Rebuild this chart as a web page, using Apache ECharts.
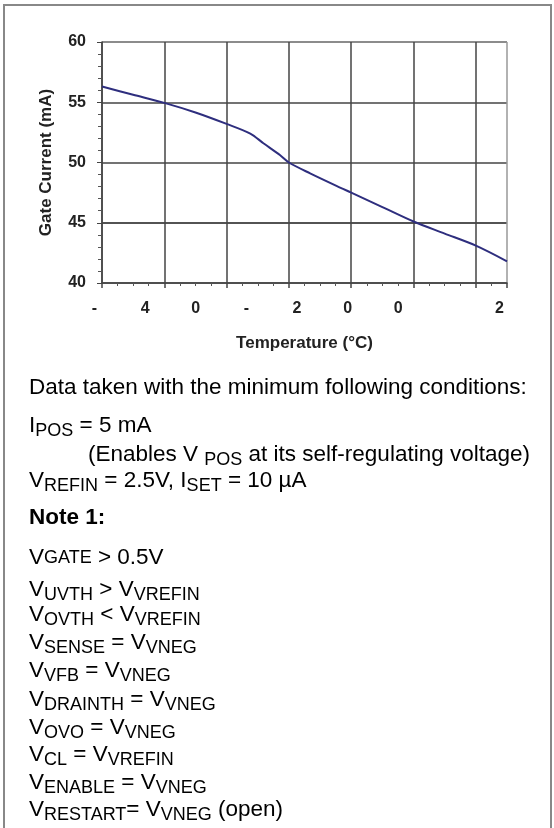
<!DOCTYPE html>
<html>
<head>
<meta charset="utf-8">
<script src="https://cdn.jsdelivr.net/npm/echarts@6/dist/echarts.min.js"></script>
<style>
html, body { margin: 0; background: #fff; }
#main { width: 554px; height: 828px; }
</style>
</head>
<body>
<div id="main"></div>
<script>
// temperature position counted in gridline steps from the left edge
var tempPos = [0, 0.5, 1, 1.5, 2, 2.38, 2.59, 2.86, 3, 3.34, 3.83, 4, 4.5, 5, 5.5, 6, 6.5];
var gateCurrent = [56.3, 55.62, 54.95, 54.15, 53.2, 52.4, 51.6, 50.6, 50.0, 49.1, 47.9, 47.5, 46.3, 45.1, 44.1, 43.1, 41.8];
var tempLabels = ['-', '4', '0', '-', '2', '0', '0', '', '2'];

var FONT = '"Liberation Sans", Arial, Helvetica, sans-serif';
var TXT = '#222';

var rich = {
  n: { fontFamily: FONT, fontSize: 22.5, lineHeight: 22, verticalAlign: 'top', color: TXT },
  s: { fontFamily: FONT, fontSize: 18, lineHeight: 18, padding: [8, 0, 0, 0], verticalAlign: 'top', color: TXT },
  g: { fontFamily: FONT, fontSize: 18, lineHeight: 18, padding: [3, 0, 0, 0], verticalAlign: 'top', color: TXT },
  b: { fontFamily: FONT, fontSize: 22.5, lineHeight: 22, fontWeight: 'bold', verticalAlign: 'top', color: TXT }
};

function note(x, baseline, text) {
  return {
    type: 'text',
    x: x,
    y: baseline - 18.6,
    silent: true,
    style: { text: text, rich: rich, verticalAlign: 'top', align: 'left' }
  };
}

var chart = echarts.init(document.getElementById('main'));

chart.setOption({
  animation: false,
  backgroundColor: '#fff',
  grid: { left: 102, right: 47, top: 42, bottom: 545 },
  xAxis: [
    {
      type: 'value',
      min: 0,
      max: 6.5,
      interval: 1,
      position: 'bottom',
      axisLine: { show: true, lineStyle: { color: '#444', width: 1.5 } },
      axisTick: { show: true, length: 5, lineStyle: { color: '#444', width: 1.5 } },
      minorTick: { show: true, splitNumber: 4, length: 3, lineStyle: { color: '#555' } },
      axisLabel: { show: false },
      splitLine: {
        show: true,
        lineStyle: { color: ['#444', '#444', '#444', '#444', '#444', '#444', '#444', '#999'], width: 1.5 }
      }
    },
    {
      type: 'category',
      data: tempLabels,
      boundaryGap: false,
      position: 'bottom',
      axisLine: { show: false },
      axisTick: { show: false },
      splitLine: { show: false },
      axisLabel: {
        interval: 0,
        margin: 18,
        padding: [0, 15, 0, 0],
        fontFamily: FONT,
        fontSize: 16,
        fontWeight: 'bold',
        color: TXT
      },
      name: 'Temperature (°C)',
      nameLocation: 'middle',
      nameGap: 52,
      nameTextStyle: { fontFamily: FONT, fontSize: 17, fontWeight: 'bold', color: TXT }
    }
  ],
  yAxis: {
    type: 'value',
    min: 40,
    max: 60,
    interval: 5,
    axisLine: { show: true, lineStyle: { color: '#444', width: 1.5 } },
    axisTick: { show: true, length: 5, lineStyle: { color: '#444' } },
    minorTick: { show: true, splitNumber: 5, length: 4, lineStyle: { color: '#555' } },
    axisLabel: { margin: 16, fontFamily: FONT, fontSize: 16, fontWeight: 'bold', color: TXT },
    splitLine: { lineStyle: { color: ['#444', '#1a1a1a', '#444', '#444', '#666'], width: 1.5 } },
    name: 'Gate Current (mA)',
    nameLocation: 'middle',
    nameGap: 47,
    nameRotate: 90,
    nameTextStyle: { fontFamily: FONT, fontSize: 17, fontWeight: 'bold', color: TXT }
  },
  series: [
    {
      type: 'line',
      xAxisIndex: 0,
      data: tempPos.map(function (t, i) { return [t, gateCurrent[i]]; }),
      showSymbol: false,
      smooth: 0.3,
      lineStyle: { color: '#2e2e7e', width: 2 }
    }
  ],
  graphic: [
    {
      type: 'rect',
      silent: true,
      shape: { x: 4, y: 5, width: 547, height: 840 },
      style: { fill: 'none', stroke: '#888', lineWidth: 2 }
    },
    note(29, 395, '{n|Data taken with the minimum following conditions:}'),
    note(29, 433, '{n|I}{s|POS}{n| = 5 mA}'),
    note(88, 462, '{n|(Enables V }{s|POS}{n| at its self-regulating voltage)}'),
    note(29, 488, '{n|V}{s|REFIN}{n| = 2.5V, I}{s|SET}{n| = 10 µA}'),
    note(29, 525, '{b|Note 1:}'),
    note(29, 565, '{n|V}{g|GATE}{n| > 0.5V}'),
    note(29, 597, '{n|V}{s|UVTH}{n| > V}{s|VREFIN}'),
    note(29, 622, '{n|V}{s|OVTH}{n| < V}{s|VREFIN}'),
    note(29, 650, '{n|V}{s|SENSE}{n| = V}{s|VNEG}'),
    note(29, 678, '{n|V}{s|VFB}{n| = V}{s|VNEG}'),
    note(29, 707, '{n|V}{s|DRAINTH}{n| = V}{s|VNEG}'),
    note(29, 735, '{n|V}{s|OVO}{n| = V}{s|VNEG}'),
    note(29, 762, '{n|V}{s|CL}{n| = V}{s|VREFIN}'),
    note(29, 790, '{n|V}{s|ENABLE}{n| = V}{s|VNEG}'),
    note(29, 817, '{n|V}{s|RESTART}{n|= V}{s|VNEG}{n| (open)}')
  ]
});
</script>
</body>
</html>
